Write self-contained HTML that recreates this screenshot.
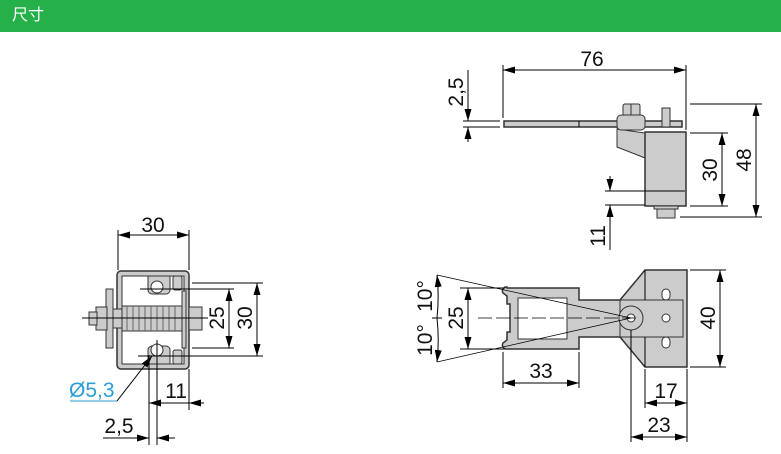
<!DOCTYPE html>
<html><head><meta charset="utf-8"><style>
html,body{margin:0;padding:0;background:#fff;width:781px;height:454px;overflow:hidden}
.hd{position:absolute;left:0;top:0;width:781px;height:32px;background:#25b04a;color:#fff;font:16px "Liberation Sans","Noto Sans CJK SC",sans-serif;line-height:32px;padding-left:12px;box-sizing:border-box}
svg{position:absolute;left:0;top:0}
text{font-family:"Liberation Sans",sans-serif;font-size:21px;fill:#111}
</style></head><body>
<div class="hd">尺寸</div>
<svg width="781" height="454" viewBox="0 0 781 454">
<defs>
<marker id="a" viewBox="0 0 12 7" refX="12" refY="3.5" markerWidth="12" markerHeight="7" markerUnits="userSpaceOnUse" orient="auto-start-reverse"><path d="M0,0L12,3.5L0,7z" fill="#000"/></marker>
</defs>
<g stroke="#000" stroke-width="1" fill="none">
<!-- LEFT VIEW -->
<line x1="118" y1="235" x2="189" y2="235" marker-start="url(#a)" marker-end="url(#a)"/>
<line x1="118" y1="230" x2="118" y2="270"/><line x1="189" y1="230" x2="189" y2="270"/>
<rect x="117" y="271" width="72" height="98" rx="4" fill="#ccc" stroke="#333" stroke-width="1.5"/>
<rect x="122" y="276" width="62" height="88" fill="#fff" stroke="#333"/>
<path d="M148,276h22v14a4,4 0 0 1 -4,4h-14a4,4 0 0 1 -4,-4z" fill="#ccc" stroke="#333"/>
<circle cx="157" cy="287" r="6" fill="#fff" stroke="#333"/>
<rect x="173" y="276" width="9" height="14" rx="2" fill="#ccc" stroke="#333"/>
<path d="M148,364h22v-14a4,4 0 0 0 -4,-4h-14a4,4 0 0 0 -4,4z" fill="#ccc" stroke="#333"/>
<circle cx="157" cy="350" r="6" fill="#fff" stroke="#333"/>
<rect x="173" y="350" width="9" height="14" rx="2" fill="#ccc" stroke="#333"/>
<rect x="122" y="306" width="60" height="25" fill="#ccc" stroke="#333"/>
<g stroke="#666">
<line x1="127" y1="306" x2="127" y2="331"/><line x1="133" y1="306" x2="133" y2="331"/><line x1="139" y1="306" x2="139" y2="331"/><line x1="145" y1="306" x2="145" y2="331"/><line x1="151" y1="306" x2="151" y2="331"/><line x1="157" y1="306" x2="157" y2="331"/><line x1="163" y1="306" x2="163" y2="331"/><line x1="169" y1="306" x2="169" y2="331"/><line x1="175" y1="306" x2="175" y2="331"/>
</g>
<rect x="182" y="291" width="4" height="57" fill="#ccc" stroke="#333"/>
<rect x="189" y="307" width="13" height="23" fill="#ccc" stroke="#333"/>
<rect x="106" y="289" width="7" height="59" fill="#ccc" stroke="#333"/>
<rect x="96" y="307" width="11" height="23" fill="#ccc" stroke="#333"/>
<rect x="89" y="312" width="8" height="13" fill="#ccc" stroke="#333"/>
<rect x="113" y="309" width="9" height="19" fill="#ccc" stroke="#333"/>
<line x1="82" y1="318" x2="208" y2="318"/>
<line x1="140" y1="289" x2="234" y2="289"/><line x1="192" y1="348" x2="234" y2="348"/>
<line x1="192" y1="283" x2="263" y2="283"/><line x1="138" y1="356" x2="263" y2="356"/>
<line x1="229" y1="289" x2="229" y2="348" marker-start="url(#a)" marker-end="url(#a)"/>
<line x1="257" y1="283" x2="257" y2="356" marker-start="url(#a)" marker-end="url(#a)"/>
<line x1="149" y1="355" x2="149" y2="445"/><line x1="157" y1="340" x2="157" y2="445"/>
<line x1="189" y1="369" x2="189" y2="410"/>
<line x1="149" y1="403" x2="204" y2="403"/>
<line x1="166" y1="403" x2="149" y2="403" marker-end="url(#a)"/>
<line x1="204" y1="403" x2="189" y2="403" marker-end="url(#a)"/>
<line x1="103" y1="438" x2="149" y2="438" marker-end="url(#a)"/>
<line x1="175" y1="438" x2="157" y2="438" marker-end="url(#a)"/>
<line x1="70" y1="401" x2="117" y2="401" stroke="#2a9fd6"/>
<line x1="117" y1="401" x2="152" y2="356" marker-end="url(#a)"/>
<!-- TOP RIGHT -->
<line x1="503" y1="70" x2="686" y2="70" marker-start="url(#a)" marker-end="url(#a)"/>
<line x1="503" y1="65" x2="503" y2="118"/><line x1="686" y1="65" x2="686" y2="130"/>
<rect x="504" y="121" width="178" height="6" fill="#ccc" stroke="#333" stroke-width="1.5"/>
<line x1="579" y1="121" x2="579" y2="127"/>
<line x1="463" y1="121" x2="500" y2="121"/><line x1="463" y1="127" x2="500" y2="127"/>
<line x1="468" y1="70" x2="468" y2="121" marker-end="url(#a)"/>
<line x1="468" y1="142" x2="468" y2="127" marker-end="url(#a)"/>
<path d="M617,129L645,133V158L617,147z" fill="#ccc" stroke="#333"/>
<rect x="623" y="104" width="17" height="12" rx="2" fill="#ccc" stroke="#333"/>
<line x1="631" y1="104" x2="631" y2="116" stroke="#333"/>
<rect x="617" y="115" width="28" height="15" rx="4" fill="#ccc" stroke="#333"/>
<rect x="662" y="108" width="8" height="19" fill="#ccc" stroke="#333"/>
<rect x="645" y="132" width="41" height="74" fill="#ccc" stroke="#333" stroke-width="1.5"/>
<rect x="654" y="206" width="24" height="3" fill="#ccc" stroke="#333"/>
<rect x="657" y="209" width="18" height="9" fill="#ccc" stroke="#333"/>
<line x1="690" y1="104" x2="762" y2="104"/><line x1="680" y1="217" x2="762" y2="217"/>
<line x1="690" y1="133" x2="728" y2="133"/><line x1="690" y1="206" x2="728" y2="206"/>
<line x1="722" y1="133" x2="722" y2="206" marker-start="url(#a)" marker-end="url(#a)"/>
<line x1="756" y1="104" x2="756" y2="217" marker-start="url(#a)" marker-end="url(#a)"/>
<line x1="605" y1="191" x2="685" y2="191"/><line x1="605" y1="205" x2="645" y2="205"/>
<line x1="610" y1="176" x2="610" y2="191" marker-end="url(#a)"/>
<line x1="610" y1="250" x2="610" y2="205" marker-end="url(#a)"/>
<!-- BOTTOM RIGHT -->
<path d="M507,288H579V300H620L645,270H687V367H645L620,337H579V349H507a4,4 0 0 1 -4,-6l4,-3v-8h3v-28h-3v-8l-4,-3a4,4 0 0 1 4,-6z" fill="#ccc" stroke="#333" stroke-width="1.5"/>
<rect x="518" y="298" width="49" height="41" fill="#fff" stroke="#333"/>
<rect x="620" y="300" width="63" height="37" fill="none" stroke="#333"/>
<line x1="645" y1="270" x2="645" y2="300"/><line x1="645" y1="337" x2="645" y2="367"/>
<circle cx="631" cy="318" r="12" fill="#ccc" stroke="#333"/>
<circle cx="631" cy="318" r="4" fill="#fff" stroke="#333"/>
<circle cx="666" cy="318" r="4" fill="#fff" stroke="#333"/>
<rect x="662" y="289" width="8" height="11" rx="4" fill="#fff" stroke="#333"/>
<rect x="662" y="337" width="8" height="11" rx="4" fill="#fff" stroke="#333"/>
<line x1="478" y1="318" x2="640" y2="318" stroke-dasharray="14,4" stroke-width="0.8"/>
<line x1="631" y1="318" x2="437" y2="275" stroke-width="0.7"/>
<line x1="631" y1="318" x2="437" y2="362" stroke-width="0.7"/>
<path d="M437,318A200,200 0 0 0 437,275" marker-end="url(#a)"/>
<path d="M437,318A200,200 0 0 1 437,362" marker-end="url(#a)"/>
<line x1="432" y1="318" x2="442" y2="318"/>
<line x1="460" y1="288" x2="505" y2="288"/><line x1="460" y1="349" x2="505" y2="349"/>
<line x1="468" y1="288" x2="468" y2="349" marker-start="url(#a)" marker-end="url(#a)"/>
<line x1="690" y1="270" x2="726" y2="270"/><line x1="690" y1="367" x2="726" y2="367"/>
<line x1="720" y1="270" x2="720" y2="367" marker-start="url(#a)" marker-end="url(#a)"/>
<line x1="503" y1="352" x2="503" y2="388"/><line x1="579" y1="352" x2="579" y2="388"/>
<line x1="503" y1="383" x2="579" y2="383" marker-start="url(#a)" marker-end="url(#a)"/>
<line x1="645" y1="369" x2="645" y2="408"/><line x1="687" y1="369" x2="687" y2="442"/>
<line x1="631" y1="330" x2="631" y2="442"/>
<line x1="645" y1="403" x2="687" y2="403" marker-start="url(#a)" marker-end="url(#a)"/>
<line x1="631" y1="437" x2="687" y2="437" marker-start="url(#a)" marker-end="url(#a)"/>
</g>
<g>
<text x="153" y="232" text-anchor="middle">30</text>
<text transform="translate(229,318) rotate(-90)" x="0" y="-5" text-anchor="middle">25</text>
<text transform="translate(257,318) rotate(-90)" x="0" y="-5" text-anchor="middle">30</text>
<text x="69" y="397" style="fill:#2a9fd6">Ø5,3</text>
<text x="176" y="398" text-anchor="middle">11</text>
<text x="119" y="433" text-anchor="middle">2,5</text>
<text x="592" y="66" text-anchor="middle">76</text>
<text transform="translate(468,92) rotate(-90)" x="0" y="-5" text-anchor="middle">2,5</text>
<text transform="translate(722,170) rotate(-90)" x="0" y="-5" text-anchor="middle">30</text>
<text transform="translate(756,160) rotate(-90)" x="0" y="-5" text-anchor="middle">48</text>
<text transform="translate(610,236) rotate(-90)" x="0" y="-5" text-anchor="middle">11</text>
<text transform="translate(468,318) rotate(-90)" x="0" y="-5" text-anchor="middle">25</text>
<text transform="translate(437,296) rotate(-90)" x="0" y="-5" text-anchor="middle">10°</text>
<text transform="translate(437,340) rotate(-90)" x="0" y="-5" text-anchor="middle">10°</text>
<text transform="translate(720,318) rotate(-90)" x="0" y="-5" text-anchor="middle">40</text>
<text x="541" y="378" text-anchor="middle">33</text>
<text x="666" y="398" text-anchor="middle">17</text>
<text x="659" y="432" text-anchor="middle">23</text>
</g>
</svg>
</body></html>
